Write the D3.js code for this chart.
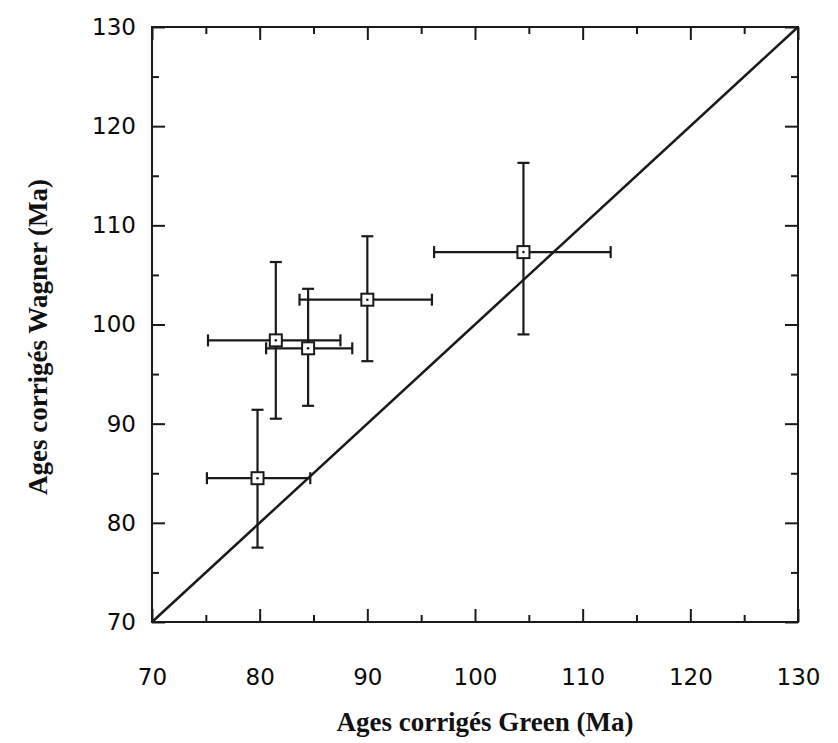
<!DOCTYPE html>
<html>
<head>
<meta charset="utf-8">
<script src="https://cdn.jsdelivr.net/npm/d3@7/dist/d3.min.js"></script>
<style>
  html, body { margin: 0; padding: 0; background: #fff; }
  svg { display: block; }
</style>
</head>
<body>
<svg id="chart" width="838" height="743"></svg>
<script>
// Data: corrected ages (Ma)
const green      = [79.8, 81.5, 84.5, 90.0, 104.5];
const greenLo    = [75.1, 75.2, 80.6, 83.7, 96.2];
const greenHi    = [84.7, 87.5, 88.6, 96.0, 112.6];
const wagner     = [84.5, 98.4, 97.6, 102.5, 107.3];
const wagnerLo   = [77.5, 90.5, 91.8, 96.3, 99.0];
const wagnerHi   = [91.4, 106.3, 103.6, 108.9, 116.3];
const tickValues = [70, 80, 90, 100, 110, 120, 130];
const minorTicks = [75, 85, 95, 105, 115, 125];
const xTitle = "Ages corrigés Green (Ma)";
const yTitle = "Ages corrigés Wagner (Ma)";

const points = green.map((g, i) => ({
  x: g, xlo: greenLo[i], xhi: greenHi[i],
  y: wagner[i], ylo: wagnerLo[i], yhi: wagnerHi[i]
}));

const L = 152, R = 798, T = 27, B = 622;
const x = d3.scaleLinear().domain([70, 130]).range([L, R]);
const y = d3.scaleLinear().domain([70, 130]).range([B, T]);

const svg = d3.select("#chart");
const stroke = "#1a1a1a";
const labelFont = "'DejaVu Sans', Verdana, sans-serif";
const titleFont = "'Liberation Serif', 'Times New Roman', serif";

// frame
svg.append("rect").attr("x", L).attr("y", T).attr("width", R - L).attr("height", B - T)
  .attr("fill", "none").attr("stroke", stroke).attr("stroke-width", 2);

// inward ticks on all four sides
const major = 13, minor = 7;
function addAxis(axisGen, transform) {
  const g = svg.append("g").attr("transform", transform);
  g.call(axisGen);
  g.select(".domain").remove();
  g.selectAll("line").attr("stroke", stroke).attr("stroke-width", 2);
  return g;
}
// bottom (labels)
const gb = addAxis(d3.axisBottom(x).tickValues(tickValues).tickSize(-major).tickFormat(d3.format("d")),
  `translate(0,${B})`);
gb.selectAll("text").attr("y", 63).attr("dy", 0)
  .attr("font-family", labelFont).attr("font-size", 23).attr("fill", "#0a0a0a");
addAxis(d3.axisBottom(x).tickValues(minorTicks).tickSize(-minor).tickFormat(""), `translate(0,${B})`);
// top
addAxis(d3.axisTop(x).tickValues(tickValues).tickSize(-major).tickFormat(""), `translate(0,${T})`);
addAxis(d3.axisTop(x).tickValues(minorTicks).tickSize(-minor).tickFormat(""), `translate(0,${T})`);
// left (labels)
const gl = addAxis(d3.axisLeft(y).tickValues(tickValues).tickSize(-major).tickFormat(d3.format("d")),
  `translate(${L},0)`);
gl.selectAll("text").attr("x", -16)
  .attr("font-family", labelFont).attr("font-size", 23).attr("fill", "#0a0a0a");
addAxis(d3.axisLeft(y).tickValues(minorTicks).tickSize(-minor).tickFormat(""), `translate(${L},0)`);
// right
addAxis(d3.axisRight(y).tickValues(tickValues).tickSize(-major).tickFormat(""), `translate(${R},0)`);
addAxis(d3.axisRight(y).tickValues(minorTicks).tickSize(-minor).tickFormat(""), `translate(${R},0)`);

// 1:1 line
svg.append("line")
  .attr("x1", x(70)).attr("y1", y(70)).attr("x2", x(130)).attr("y2", y(130))
  .attr("stroke", stroke).attr("stroke-width", 2.5);

// error bars
const cap = 6;
const eb = svg.append("g").attr("stroke", stroke).attr("stroke-width", 2.2);
points.forEach(p => {
  eb.append("line").attr("x1", x(p.xlo)).attr("x2", x(p.xhi)).attr("y1", y(p.y)).attr("y2", y(p.y));
  eb.append("line").attr("x1", x(p.xlo)).attr("x2", x(p.xlo)).attr("y1", y(p.y) - cap).attr("y2", y(p.y) + cap);
  eb.append("line").attr("x1", x(p.xhi)).attr("x2", x(p.xhi)).attr("y1", y(p.y) - cap).attr("y2", y(p.y) + cap);
  eb.append("line").attr("x1", x(p.x)).attr("x2", x(p.x)).attr("y1", y(p.ylo)).attr("y2", y(p.yhi));
  eb.append("line").attr("x1", x(p.x) - cap).attr("x2", x(p.x) + cap).attr("y1", y(p.ylo)).attr("y2", y(p.ylo));
  eb.append("line").attr("x1", x(p.x) - cap).attr("x2", x(p.x) + cap).attr("y1", y(p.yhi)).attr("y2", y(p.yhi));
});

// markers: open square with centre dot
const mk = svg.append("g");
points.forEach(p => {
  mk.append("rect").attr("x", x(p.x) - 6).attr("y", y(p.y) - 6).attr("width", 12).attr("height", 12)
    .attr("fill", "#fff").attr("stroke", stroke).attr("stroke-width", 2);
  mk.append("circle").attr("cx", x(p.x)).attr("cy", y(p.y)).attr("r", 1.3).attr("fill", stroke);
});

// axis titles
svg.append("text").attr("x", 485).attr("y", 731).attr("text-anchor", "middle")
  .attr("font-family", titleFont).attr("font-weight", "bold")
  .attr("font-size", 27).attr("fill", "#111").text(xTitle);
svg.append("text").attr("transform", "translate(47,337) rotate(-90)").attr("text-anchor", "middle")
  .attr("font-family", titleFont).attr("font-weight", "bold")
  .attr("font-size", 27).attr("fill", "#111").text(yTitle);
</script>
</body>
</html>
